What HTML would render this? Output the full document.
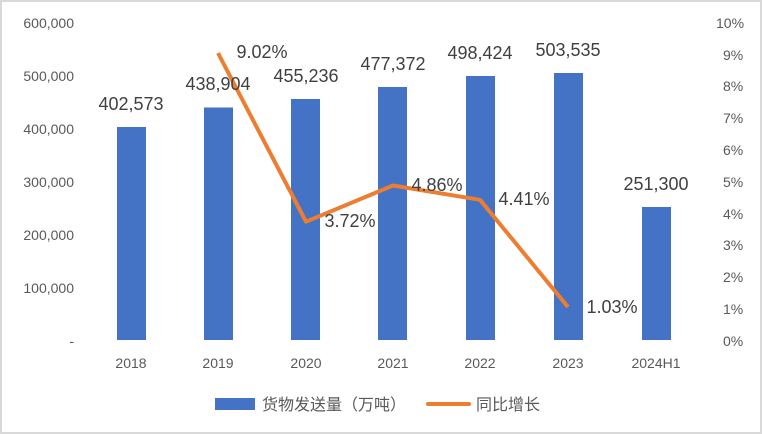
<!DOCTYPE html>
<html><head><meta charset="utf-8"><style>
html,body{margin:0;padding:0;background:#fff}
svg{display:block}
text{font-family:"Liberation Sans","Noto Sans CJK SC",sans-serif}
</style></head><body>
<svg width="762" height="434" viewBox="0 0 762 434" xmlns="http://www.w3.org/2000/svg">
<rect x="1" y="1" width="760" height="432" fill="#fff" stroke="#d9d9d9" stroke-width="2"/>
<g font-size="14" fill="#595959" text-anchor="end">
<text x="74" y="28">600,000</text>
<text x="74" y="81">500,000</text>
<text x="74" y="134">400,000</text>
<text x="74" y="187">300,000</text>
<text x="74" y="240">200,000</text>
<text x="74" y="293">100,000</text>
<text x="74" y="346">-</text>
</g>
<g font-size="14" fill="#595959" text-anchor="start">
<text x="716" y="28">10%</text>
<text x="723" y="60">9%</text>
<text x="723" y="91">8%</text>
<text x="723" y="123">7%</text>
<text x="723" y="155">6%</text>
<text x="723" y="187">5%</text>
<text x="723" y="219">4%</text>
<text x="723" y="250">3%</text>
<text x="723" y="282">2%</text>
<text x="723" y="314">1%</text>
<text x="723" y="346">0%</text>
</g>
<g fill="#4472c4">
<rect x="117" y="127" width="29" height="213"/>
<rect x="204" y="107.5" width="29" height="232.5"/>
<rect x="291" y="99" width="29" height="241"/>
<rect x="378" y="87" width="29" height="253"/>
<rect x="466" y="76" width="29" height="264"/>
<rect x="554" y="73" width="29" height="267"/>
<rect x="642" y="207" width="29" height="133"/>
</g>
<g font-size="14" fill="#595959" text-anchor="middle">
<text x="131" y="368">2018</text>
<text x="218" y="368">2019</text>
<text x="306" y="368">2020</text>
<text x="393" y="368">2021</text>
<text x="480" y="368">2022</text>
<text x="568" y="368">2023</text>
<text x="656" y="368">2024H1</text>
</g>
<polyline points="218,53 306,221.7 393,185.5 480,199.8 568,307" fill="none" stroke="#ed7d31" stroke-width="4" stroke-linejoin="round"/>
<g font-size="18" fill="#404040" text-anchor="middle">
<text x="131" y="110">402,573</text>
<text x="218" y="90">438,904</text>
<text x="306" y="82">455,236</text>
<text x="393" y="70">477,372</text>
<text x="480" y="59">498,424</text>
<text x="568" y="56">503,535</text>
<text x="656" y="190">251,300</text>
<text x="262" y="58">9.02%</text>
<text x="350" y="227">3.72%</text>
<text x="437" y="191">4.86%</text>
<text x="524" y="205">4.41%</text>
<text x="612" y="313">1.03%</text>
</g>
<rect x="215" y="398" width="40" height="12" fill="#4472c4"/>
<text x="262" y="410" font-size="16" fill="#595959">货物发送量（万吨）</text>
<line x1="428" y1="404" x2="469" y2="404" stroke="#ed7d31" stroke-width="4" stroke-linecap="round"/>
<text x="476" y="410" font-size="16" fill="#595959">同比增长</text>
</svg>
</body></html>
